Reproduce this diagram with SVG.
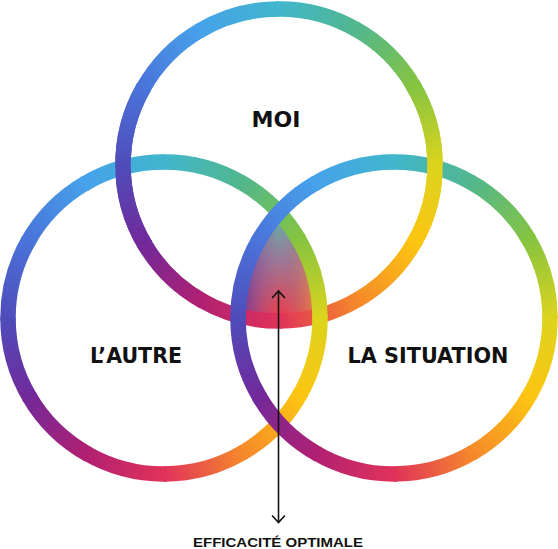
<svg xmlns="http://www.w3.org/2000/svg" xmlns:xlink="http://www.w3.org/1999/xlink" width="558" height="549" viewBox="0 0 558 549">
<style>
.seg{fill:none;stroke-width:15.5;stroke-linecap:butt}
.lbl{font-family:"DejaVu Sans","Liberation Sans",sans-serif;font-weight:bold;fill:#111;text-anchor:middle}
.cap{font-family:"Liberation Sans",Arial,sans-serif;font-weight:bold;fill:#111;text-anchor:middle}
.conn{stroke:#111;stroke-width:1.6;fill:none}
</style>
<defs>
<linearGradient id="g0" gradientUnits="userSpaceOnUse" x1="0" y1="-156" x2="78" y2="-135.1"><stop offset="0" stop-color="#41b6cc"/><stop offset="1" stop-color="#52b78c"/></linearGradient>
<linearGradient id="g1" gradientUnits="userSpaceOnUse" x1="78" y1="-135.1" x2="135.1" y2="-78"><stop offset="0" stop-color="#52b78c"/><stop offset="1" stop-color="#86c440"/></linearGradient>
<linearGradient id="g2" gradientUnits="userSpaceOnUse" x1="135.1" y1="-78" x2="156" y2="0"><stop offset="0" stop-color="#86c440"/><stop offset="1" stop-color="#dcd41e"/></linearGradient>
<linearGradient id="g3" gradientUnits="userSpaceOnUse" x1="156" y1="0" x2="135.1" y2="78"><stop offset="0" stop-color="#dcd41e"/><stop offset="1" stop-color="#fcc512"/></linearGradient>
<linearGradient id="g4" gradientUnits="userSpaceOnUse" x1="135.1" y1="78" x2="78" y2="135.1"><stop offset="0" stop-color="#fcc512"/><stop offset="1" stop-color="#f5892a"/></linearGradient>
<linearGradient id="g5" gradientUnits="userSpaceOnUse" x1="78" y1="135.1" x2="0" y2="156"><stop offset="0" stop-color="#f5892a"/><stop offset="1" stop-color="#e0325a"/></linearGradient>
<linearGradient id="g6" gradientUnits="userSpaceOnUse" x1="0" y1="156" x2="-78" y2="135.1"><stop offset="0" stop-color="#e0325a"/><stop offset="1" stop-color="#b02072"/></linearGradient>
<linearGradient id="g7" gradientUnits="userSpaceOnUse" x1="-78" y1="135.1" x2="-135.1" y2="78"><stop offset="0" stop-color="#b02072"/><stop offset="1" stop-color="#72299a"/></linearGradient>
<linearGradient id="g8" gradientUnits="userSpaceOnUse" x1="-135.1" y1="78" x2="-156" y2="0"><stop offset="0" stop-color="#72299a"/><stop offset="1" stop-color="#4f4cba"/></linearGradient>
<linearGradient id="g9" gradientUnits="userSpaceOnUse" x1="-156" y1="0" x2="-135.1" y2="-78"><stop offset="0" stop-color="#4f4cba"/><stop offset="1" stop-color="#4a74da"/></linearGradient>
<linearGradient id="g10" gradientUnits="userSpaceOnUse" x1="-135.1" y1="-78" x2="-78" y2="-135.1"><stop offset="0" stop-color="#4a74da"/><stop offset="1" stop-color="#46a2ea"/></linearGradient>
<linearGradient id="g11" gradientUnits="userSpaceOnUse" x1="-78" y1="-135.1" x2="0" y2="-156"><stop offset="0" stop-color="#46a2ea"/><stop offset="1" stop-color="#41b6cc"/></linearGradient>
<linearGradient id="fillV" gradientUnits="userSpaceOnUse" x1="0" y1="212" x2="0" y2="318"><stop offset="0" stop-color="#5cb8aa"/><stop offset="0.45" stop-color="#9a7a98"/><stop offset="1" stop-color="#f03a48"/></linearGradient>
<linearGradient id="fillH" gradientUnits="userSpaceOnUse" x1="238" y1="0" x2="322" y2="0"><stop offset="0" stop-color="#4a36b0" stop-opacity="0.85"/><stop offset="0.5" stop-color="#a06090" stop-opacity="0"/><stop offset="1" stop-color="#f5a030" stop-opacity="0.9"/></linearGradient>
<clipPath id="cTop"><circle cx="279" cy="165" r="156"/></clipPath>
<clipPath id="cLeft"><circle cx="164" cy="318" r="156"/></clipPath>
<marker id="arr" viewBox="-9 -9 18 18" markerWidth="18" markerHeight="18" markerUnits="userSpaceOnUse" refX="0" refY="0" orient="auto-start-reverse" overflow="visible"><path d="M-7,-6.4 L0,0 L-7,6.4" fill="none" stroke="#111" stroke-width="1.6"/></marker>
<g id="ring">
<path id="s0" class="seg" stroke="url(#g0)" d="M -2.72 -155.98 A 156 156 0 0 1 78 -135.1"/>
<path id="s1" class="seg" stroke="url(#g1)" d="M 75.63 -136.44 A 156 156 0 0 1 135.1 -78"/>
<path id="s2" class="seg" stroke="url(#g2)" d="M 133.72 -80.35 A 156 156 0 0 1 156 0"/>
<path id="s3" class="seg" stroke="url(#g3)" d="M 155.98 -2.72 A 156 156 0 0 1 135.1 78"/>
<path id="s4" class="seg" stroke="url(#g4)" d="M 136.44 75.63 A 156 156 0 0 1 78 135.1"/>
<path id="s5" class="seg" stroke="url(#g5)" d="M 80.35 133.72 A 156 156 0 0 1 0 156"/>
<path id="s6" class="seg" stroke="url(#g6)" d="M 2.72 155.98 A 156 156 0 0 1 -78 135.1"/>
<path id="s7" class="seg" stroke="url(#g7)" d="M -75.63 136.44 A 156 156 0 0 1 -135.1 78"/>
<path id="s8" class="seg" stroke="url(#g8)" d="M -133.72 80.35 A 156 156 0 0 1 -156 0"/>
<path id="s9" class="seg" stroke="url(#g9)" d="M -155.98 2.72 A 156 156 0 0 1 -135.1 -78"/>
<path id="s10" class="seg" stroke="url(#g10)" d="M -136.44 -75.63 A 156 156 0 0 1 -78 -135.1"/>
<path id="s11" class="seg" stroke="url(#g11)" d="M -80.35 -133.72 A 156 156 0 0 1 0 -156"/>
</g>
</defs>
<rect width="558" height="549" fill="#fff"/>
<g id="node-efficacite-zone" clip-path="url(#cTop)">
<g clip-path="url(#cLeft)">
<circle cx="394" cy="318" r="156" fill="url(#fillV)"/>
<circle cx="394" cy="318" r="156" fill="url(#fillH)"/>
</g>
</g>
<g id="node-moi">
<use href="#ring" xlink:href="#ring" transform="translate(279,165)"/>
<text class="lbl" x="276" y="126.5" font-size="20.5" textLength="49" lengthAdjust="spacingAndGlyphs">MOI</text>
</g>
<g id="node-autre">
<use href="#ring" xlink:href="#ring" transform="translate(164,318)"/>
<text class="lbl" x="136" y="363.3" font-size="20.5" textLength="92" lengthAdjust="spacingAndGlyphs">L’AUTRE</text>
</g>
<g id="node-situation">
<use href="#ring" xlink:href="#ring" transform="translate(394,318)"/>
<text class="lbl" x="428" y="363.3" font-size="20.5" textLength="161" lengthAdjust="spacingAndGlyphs">LA SITUATION</text>
</g>
<g id="node-moi-weave" transform="translate(279,165)">
<use href="#s8" xlink:href="#s8"/>
<use href="#s9" xlink:href="#s9"/>
<use href="#s2" xlink:href="#s2"/>
<use href="#s3" xlink:href="#s3"/>
</g>
<g id="connectors">
<line class="conn" x1="278.5" y1="291" x2="278.5" y2="522.5" marker-start="url(#arr)" marker-end="url(#arr)"/>
</g>
<g id="node-efficacite">
<text class="cap" x="278" y="546.5" font-size="13.5" textLength="170" lengthAdjust="spacingAndGlyphs">EFFICACITÉ OPTIMALE</text>
</g>
</svg>
